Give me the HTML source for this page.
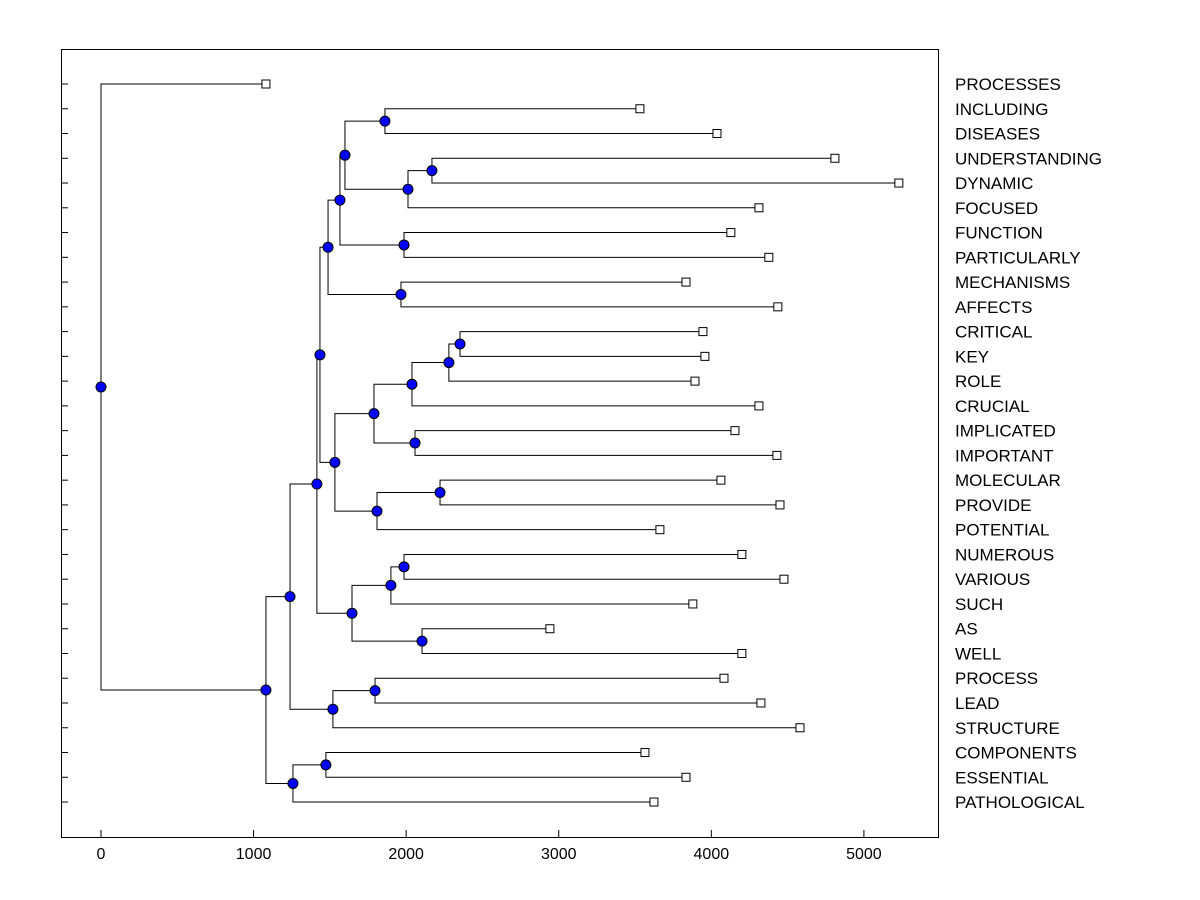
<!DOCTYPE html>
<html><head><meta charset="utf-8"><style>
html,body{margin:0;padding:0;background:#fff;}
svg{display:block;font-family:"Liberation Sans",Arial,sans-serif;}
</style></head><body>
<svg id="chart" width="1200" height="900" viewBox="0 0 1200 900">
<rect x="61.5" y="49.5" width="877" height="788" fill="#fff" stroke="#000" stroke-width="1"/>
<g id="lines"></g><g id="marks"></g><g id="labels"></g><g id="axis"></g>
</svg>
<script>
const leafNames = ["PROCESSES","INCLUDING","DISEASES","UNDERSTANDING","DYNAMIC","FOCUSED","FUNCTION","PARTICULARLY","MECHANISMS","AFFECTS","CRITICAL","KEY","ROLE","CRUCIAL","IMPLICATED","IMPORTANT","MOLECULAR","PROVIDE","POTENTIAL","NUMEROUS","VARIOUS","SUCH","AS","WELL","PROCESS","LEAD","STRUCTURE","COMPONENTS","ESSENTIAL","PATHOLOGICAL"];
const leafValues = [1081,3532,4037,4810,5229,4312,4128,4377,3834,4436,3945,3958,3893,4312,4155,4430,4063,4450,3663,4200,4476,3879,2942,4200,4083,4325,4581,3565,3834,3624];
const mergeLeft  = [1,3,31,30,6,33,8,35,10,38,39,14,40,16,43,42,37,19,47,22,48,46,24,52,51,27,55,54,0];
const mergeRight = [2,4,5,32,7,34,9,36,11,12,13,15,41,17,18,44,45,20,21,23,49,50,25,26,53,28,29,56,57];
const mergeHeights = [1861,2169,2012,1599,1986,1566,1966,1488,2353,2280,2038,2058,1789,2222,1809,1533,1435,1986,1900,2104,1645,1415,1796,1520,1239,1474,1258,1081,0];
const xTicks = [0,1000,2000,3000,4000,5000];

const NS="http://www.w3.org/2000/svg";
const xS = v => 101 + v*0.15258;
const yS = i => 84 + i*24.76;
function mk(tag, attrs, parent){const e=document.createElementNS(NS,tag);for(const k in attrs)e.setAttribute(k,attrs[k]);document.getElementById(parent).appendChild(e);return e;}

const nodeX=[], nodeY=[];
leafValues.forEach((v,i)=>{nodeX.push(xS(v));nodeY.push(yS(i));});
mergeHeights.forEach((h,k)=>{
  const a=mergeLeft[k], b=mergeRight[k];
  const x=xS(h), y=(nodeY[a]+nodeY[b])/2;
  nodeX.push(x); nodeY.push(y);
  const p=mk('path',{d:`M${nodeX[a]},${nodeY[a]}H${x}V${nodeY[b]}H${nodeX[b]}`,fill:'none',stroke:'#000','stroke-width':1},'lines');
  
  
});
mergeHeights.forEach((h,k)=>{
  const id=leafValues.length+k;
  const c=mk('circle',{cx:nodeX[id],cy:nodeY[id],r:5,fill:'#0000ff',stroke:'#000','stroke-width':1},'marks');
  
  
});
leafNames.forEach((n,i)=>{
  const r=mk('rect',{x:nodeX[i]-4,y:nodeY[i]-4,width:8,height:8,fill:'#fff',stroke:'#000','stroke-width':1},'marks');
  
  
  const t=mk('text',{x:955,y:yS(i)+6,'font-size':17,fill:'#000'},'labels');
  t.textContent=n;
  
  
  const tk=mk('line',{x1:61,x2:68,y1:yS(i),y2:yS(i),stroke:'#000'},'axis');
  
  
});
xTicks.forEach(v=>{
  const t=mk('text',{x:xS(v),y:859,'font-size':16,'text-anchor':'middle',fill:'#000'},'axis');
  t.textContent=String(v);
  
  
  const tk=mk('line',{x1:xS(v),x2:xS(v),y1:837,y2:830,stroke:'#000'},'axis');
  
  
});
</script>
</body></html>
